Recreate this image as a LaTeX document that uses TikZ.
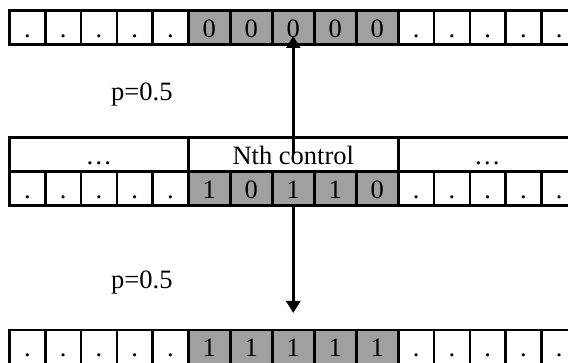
\documentclass[tikz,border=0pt]{standalone}
\usepackage{fontspec}
\setmainfont{Liberation Serif}
\usetikzlibrary{arrows.meta}
\definecolor{cellgray}{RGB}{160,160,160}
\begin{document}
\begin{tikzpicture}[x=1pt,y=-1pt,
  cellbase/.style={draw, line width=2.5pt, inner sep=0pt, outer sep=0pt,
    minimum height=34pt, text height=27pt, text depth=7pt, anchor=north west,
    font=\fontsize{26.5}{30}\selectfont},
  wcell/.style={cellbase, fill=white, minimum width=35.75pt},
  gcell/.style={cellbase, fill=cellgray, minimum width=42pt},
  hcell/.style={cellbase},
  lbl/.style={inner sep=0pt, anchor=base west, font=\fontsize{26.5}{30}\selectfont},
  arr/.style={line width=2.5pt, -{Triangle[length=12pt,width=14pt]}}
]
\useasboundingbox (0,0) rectangle (568,363);
\clip (0,0) rectangle (568,363);
% top row
\foreach \i in {0,...,4} \node[wcell] (tl\i) at (9.5+35.75*\i,10.5) {.};
\foreach \i/\v in {0/0,1/0,2/0,3/0,4/0} \node[gcell] (tg\i) at (188.25+42*\i,10.5) {\v};
\foreach \i in {0,...,5} \node[wcell] (tr\i) at (398.25+35.75*\i,10.5) {.};
% middle header
\node[hcell, minimum width=178.75pt] (h1) at (9.5,137.5) {\dots};
\node[hcell, minimum width=210pt] (h2) at (188.25,137.5) {Nth control};
\node[hcell, minimum width=240pt] (h3) at (398.25,137.5) {\hspace*{-62pt}\dots};
% middle row
\foreach \i in {0,...,4} \node[wcell] (ml\i) at (9.5+35.75*\i,171.5) {.};
\foreach \i/\v in {0/1,1/0,2/1,3/1,4/0} \node[gcell] (mg\i) at (188.25+42*\i,171.5) {\v};
\foreach \i in {0,...,5} \node[wcell] (mr\i) at (398.25+35.75*\i,171.5) {.};
% bottom row
\foreach \i in {0,...,4} \node[wcell] (bl\i) at (9.5+35.75*\i,330) {.};
\foreach \i/\v in {0/1,1/1,2/1,3/1,4/1} \node[gcell] (bg\i) at (188.25+42*\i,330) {\v};
\foreach \i in {0,...,5} \node[wcell] (br\i) at (398.25+35.75*\i,330) {.};
% labels
\node[lbl] (p1) at (111,101) {p=0.5};
\node[lbl] (p2) at (111,289) {p=0.5};
% arrows
\draw[arr] (h2.center) -- ([yshift=8.5pt]tg2.south);
\draw[arr] (mg2.south) -- ([yshift=17pt]bg2.north);
\end{tikzpicture}
\end{document}
